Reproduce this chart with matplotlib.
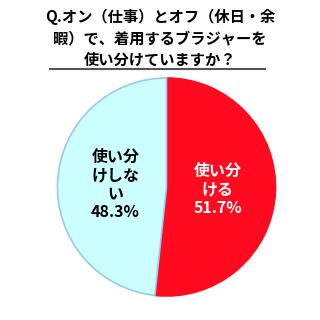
import matplotlib
matplotlib.use("Agg")
import matplotlib.pyplot as plt

plt.rcParams['font.family'] = ['Noto Sans CJK JP', 'DejaVu Sans']

title = "Q.オン（仕事）とオフ（休日・余\n暇）で、着用するブラジャーを\n使い分けていますか？"
labels = ["使い分\nける", "使い分\nけしな\nい"]
values = [51.7, 48.3]
colors = ["#ff0a1e", "#ccffff"]
edge_colors = ["#ff0a1e", "#99c8f0"]
text_colors = ["white", "black"]

fig = plt.figure(figsize=(3.2, 3.2), dpi=100)
ax = fig.add_axes([0, 0, 1, 1])

wedges, texts = ax.pie(values, labels=[f"{l}\n{v}%" for l, v in zip(labels, values)],
                       colors=colors, startangle=90, counterclock=False,
                       center=(166.5, 133), radius=109, labeldistance=0.47,
                       frame=True,
                       textprops=dict(fontsize=11.5, ha='center', va='center',
                                      linespacing=1.2, fontweight='bold'))
ax.axis('off')
ax.set_xlim(0, 320)
ax.set_ylim(0, 320)
ax.set_aspect('equal')
for w, ec in zip(wedges, edge_colors):
    w.set_edgecolor(ec)
    w.set_linewidth(1.2)
for t, c in zip(texts, text_colors):
    t.set_color(c)
    t.set_horizontalalignment('center')

fig.text(0.5, 1 - 38 / 320, title, ha='center', va='center', fontsize=11,
         fontweight='bold', linespacing=1.42, color='black')
ax.plot([50, 265], [320 - 69, 320 - 69], color='#555555', linewidth=1.5)

fig.savefig("out.png", dpi=100)
